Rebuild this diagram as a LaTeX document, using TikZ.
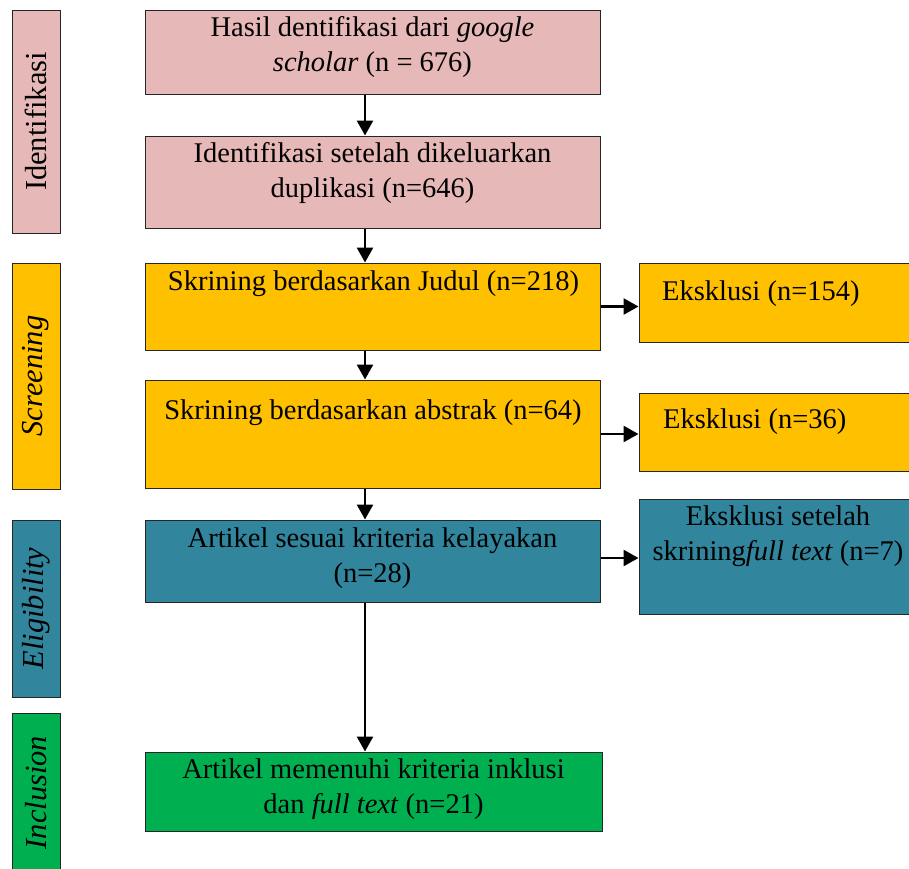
\documentclass[tikz,border=0pt]{standalone}
\usepackage{fontspec}
\setmainfont{Liberation Serif}
\usepackage{xcolor}
\usetikzlibrary{positioning,arrows.meta,calc}
\definecolor{idpink}{HTML}{E6B8B7}
\definecolor{scrgold}{HTML}{FFC000}
\definecolor{eligteal}{HTML}{31859C}
\definecolor{inclgreen}{HTML}{00B050}

\begin{document}
\begin{tikzpicture}[x=1pt,y=-1pt,
  box/.style={draw=black!85, line width=1pt, fill=#1, inner sep=0, minimum width=455},
  sidebox/.style={draw=black!85, line width=1pt, fill=#1, inner sep=0, minimum height=48, rotate=90,
    font=\fontsize{30.5}{34}\selectfont},
  txt/.style={align=center, inner sep=0, font=\fontsize{28.5}{35}\selectfont},
  flow/.style={line width=2.6pt, -{Triangle[length=15pt,width=16pt]}}]
\useasboundingbox (0,0) rectangle (909,868);

% phase labels on the left
\node[sidebox=idpink, minimum width=223] (sid) at (36,121.5) {Identifikasi};
\node[sidebox=scrgold, minimum width=226] (sscr) at (36,376) {\textit{Screening}};
\node[sidebox=eligteal, minimum width=177] (selig) at (36,608.5) {\textit{Eligibility}};
\node[sidebox=inclgreen, minimum width=159] (sincl) at (36,792.5) {\textit{Inclusion}};

% main column
\node[box=idpink, minimum height=84] (hasil) at (372.5,52) {};
\node[box=idpink, minimum height=92] (dupl) at (372.5,182) {};
\node[box=scrgold, minimum height=87] (judul) at (372.5,306.5) {};
\node[box=scrgold, minimum height=108] (abstr) at (372.5,434) {};
\node[box=eligteal, minimum height=82] (layak) at (372.5,561) {};
\node[box=inclgreen, minimum height=79, minimum width=457] (inkl) at (373.5,791.5) {};

\node[txt] (hasilt) at (372.5,47) {Hasil dentifikasi dari \textit{google}\\\textit{scholar} (n = 676)};
\node[txt] (duplt) at (372.5,173) {Identifikasi setelah dikeluarkan\\duplikasi (n=646)};
\node[txt] (judult) at (373.5,284) {Skrining berdasarkan Judul (n=218)};
\node[txt] (abstrt) at (373,413) {Skrining berdasarkan abstrak (n=64)};
\node[txt] (layakt) at (372.5,558) {Artikel sesuai kriteria kelayakan\\(n=28)};
\node[txt] (inklt) at (373.5,789) {Artikel memenuhi kriteria inklusi\\dan \textit{full text} (n=21)};

% exclusions on the right
\node[box=scrgold, minimum width=273, minimum height=79] (eks1) at (775.5,302.5) {};
\node[box=scrgold, minimum width=273, minimum height=78] (eks2) at (775.5,432) {};
\node[box=eligteal, minimum width=273, minimum height=115] (eks3) at (775.5,556.5) {};

\node[txt, anchor=west] (eks1t) at (662,294) {Eksklusi (n=154)};
\node[txt, anchor=west] (eks2t) at (663,422) {Eksklusi (n=36)};
\node[txt] (eks3t) at (778,536) {Eksklusi setelah\\skrining\textit{full text} (n=7)};

% arrows
\draw[flow] ([xshift=-7.5]hasil.south) -- ([xshift=-7.5]hasil.south |- dupl.north);
\draw[flow] ([xshift=-7.5]dupl.south) -- ([xshift=-7.5]dupl.south |- judul.north);
\draw[flow] ([xshift=-7.5]judul.south) -- ([xshift=-7.5]judul.south |- abstr.north);
\draw[flow] ([xshift=-7.5]abstr.south) -- ([xshift=-7.5]abstr.south |- layak.north);
\draw[flow] ([xshift=-7.5]layak.south) -- ([xshift=-7.5]layak.south |- inkl.north);

\draw[flow] (judul.east) -- (judul.east -| eks1.west);
\draw[flow] (abstr.east) -- (abstr.east -| eks2.west);
\draw[flow] ([yshift=3]layak.east) -- ([yshift=3]layak.east -| eks3.west);
\end{tikzpicture}
\end{document}
